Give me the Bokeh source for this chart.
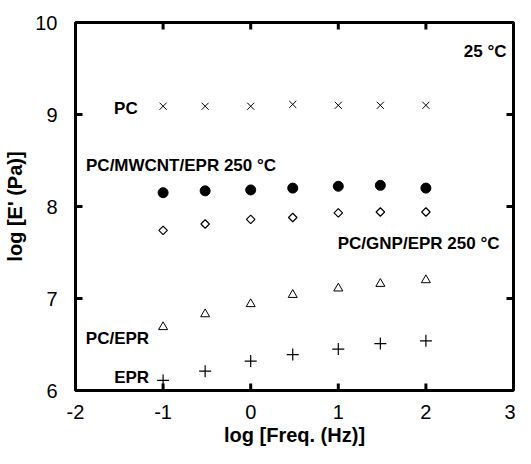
from bokeh.plotting import figure
from bokeh.models import FixedTicker, Range1d
from bokeh.core.properties import value
from bokeh.embed import file_html
from bokeh.resources import INLINE
import math

# ---- data ----
log_freq = [-1, -0.52, 0, 0.48, 1, 1.48, 2]
pc = [9.09, 9.09, 9.09, 9.11, 9.10, 9.10, 9.10]
pc_mwcnt_epr = [8.15, 8.17, 8.18, 8.20, 8.22, 8.23, 8.20]
pc_gnp_epr = [7.74, 7.81, 7.86, 7.88, 7.93, 7.94, 7.94]
pc_epr = [6.69, 6.83, 6.94, 7.04, 7.11, 7.16, 7.20]
epr = [6.11, 6.21, 6.32, 6.39, 6.45, 6.51, 6.54]

x_ticks = [-2, -1, 0, 1, 2, 3]
x_tick_labels = {-2: "-2", -1: "-1", 0: "0", 1: "1", 2: "2", 3: "3"}
y_ticks = [6, 7, 8, 9, 10]

# annotation labels
right_labels = ["PC", "PC/EPR", "EPR", "PC/GNP/EPR 250 °C", "25 °C"]
right_label_x = [-1.29, -1.16, -1.16, 2.84, 2.92]
right_label_y = [9.07, 6.56, 6.14, 7.60, 9.69]
left_labels = ["PC/MWCNT/EPR 250 °C"]
left_label_x = [-1.88]
left_label_y = [8.45]

FONT = "Liberation Sans"
W, H = 515, 448
BL, BR, BT, BB = 75, 2, 22, 54
TICK_PX = 7

p = figure(width=W, height=H,
           x_range=Range1d(x_ticks[0], x_ticks[-1]), y_range=Range1d(y_ticks[0], y_ticks[-1]),
           output_backend="svg", toolbar_location=None,
           min_border_left=BL, min_border_right=BR, min_border_top=BT, min_border_bottom=BB,
           x_axis_label="log [Freq. (Hz)]", y_axis_label="log [E' (Pa)]")
p.grid.visible = False
p.outline_line_color = "black"
p.outline_line_width = 3
p.background_fill_color = "white"
p.border_fill_color = "white"

for ax, ticks in ((p.xaxis[0], x_ticks), (p.yaxis[0], y_ticks)):
    ax.ticker = FixedTicker(ticks=ticks)
    ax.axis_line_color = None
    ax.major_tick_line_color = None
    ax.minor_tick_line_color = None
    ax.major_label_text_font = FONT
    ax.major_label_text_font_size = "20px"
    ax.major_label_text_color = "black"
    ax.axis_label_text_font = FONT
    ax.axis_label_text_font_size = "20px"
    ax.axis_label_text_font_style = "bold"
    ax.axis_label_text_color = "black"

p.xaxis[0].major_label_overrides = x_tick_labels
p.xaxis[0].major_label_standoff = 8
p.xaxis[0].axis_label_standoff = 2
p.yaxis[0].major_label_standoff = 12
p.yaxis[0].axis_label_standoff = 6

# inward tick marks as dash markers sitting just inside each edge
x0, x1 = x_ticks[0], x_ticks[-1]
y0, y1 = y_ticks[0], y_ticks[-1]
ux = (x1 - x0) / (W - BL - BR)   # data units per pixel, x
uy = (y1 - y0) / (H - BT - BB)   # data units per pixel, y
hx, hy = TICK_PX * ux / 2, TICK_PX * uy / 2
inner_x = x_ticks[1:-1]
inner_y = y_ticks[1:-1]

p.scatter(inner_x * 2, [y0 + hy] * len(inner_x) + [y1 - hy] * len(inner_x),
          marker="dash", angle=math.pi / 2, size=TICK_PX, line_width=3, line_color="black")
p.scatter([x0 + hx] * len(inner_y) + [x1 - hx] * len(inner_y), inner_y * 2,
          marker="dash", size=TICK_PX, line_width=3, line_color="black")

p.scatter(log_freq, pc, marker="x", size=10, line_color="black", line_width=1)
p.scatter(log_freq, pc_mwcnt_epr, marker="circle", size=10, fill_color="black", line_color="black")
p.scatter(log_freq, pc_gnp_epr, marker="square", angle=math.pi / 4, size=6,
          fill_color="white", line_color="black", line_width=1.2)
p.scatter(log_freq, pc_epr, marker="triangle", size=9, fill_color="white", line_color="black", line_width=1)
p.scatter(log_freq, epr, marker="cross", size=12, line_color="black", line_width=1.2)

p.text(x=right_label_x, y=right_label_y, text=right_labels, text_font=value(FONT),
       text_font_style="bold", text_font_size="17px", text_align="right",
       text_baseline="middle", text_color="black")
p.text(x=left_label_x, y=left_label_y, text=left_labels, text_font=value(FONT),
       text_font_style="bold", text_font_size="17px", text_align="left",
       text_baseline="middle", text_color="black")

open("out.html", "w").write(file_html(p, INLINE))
